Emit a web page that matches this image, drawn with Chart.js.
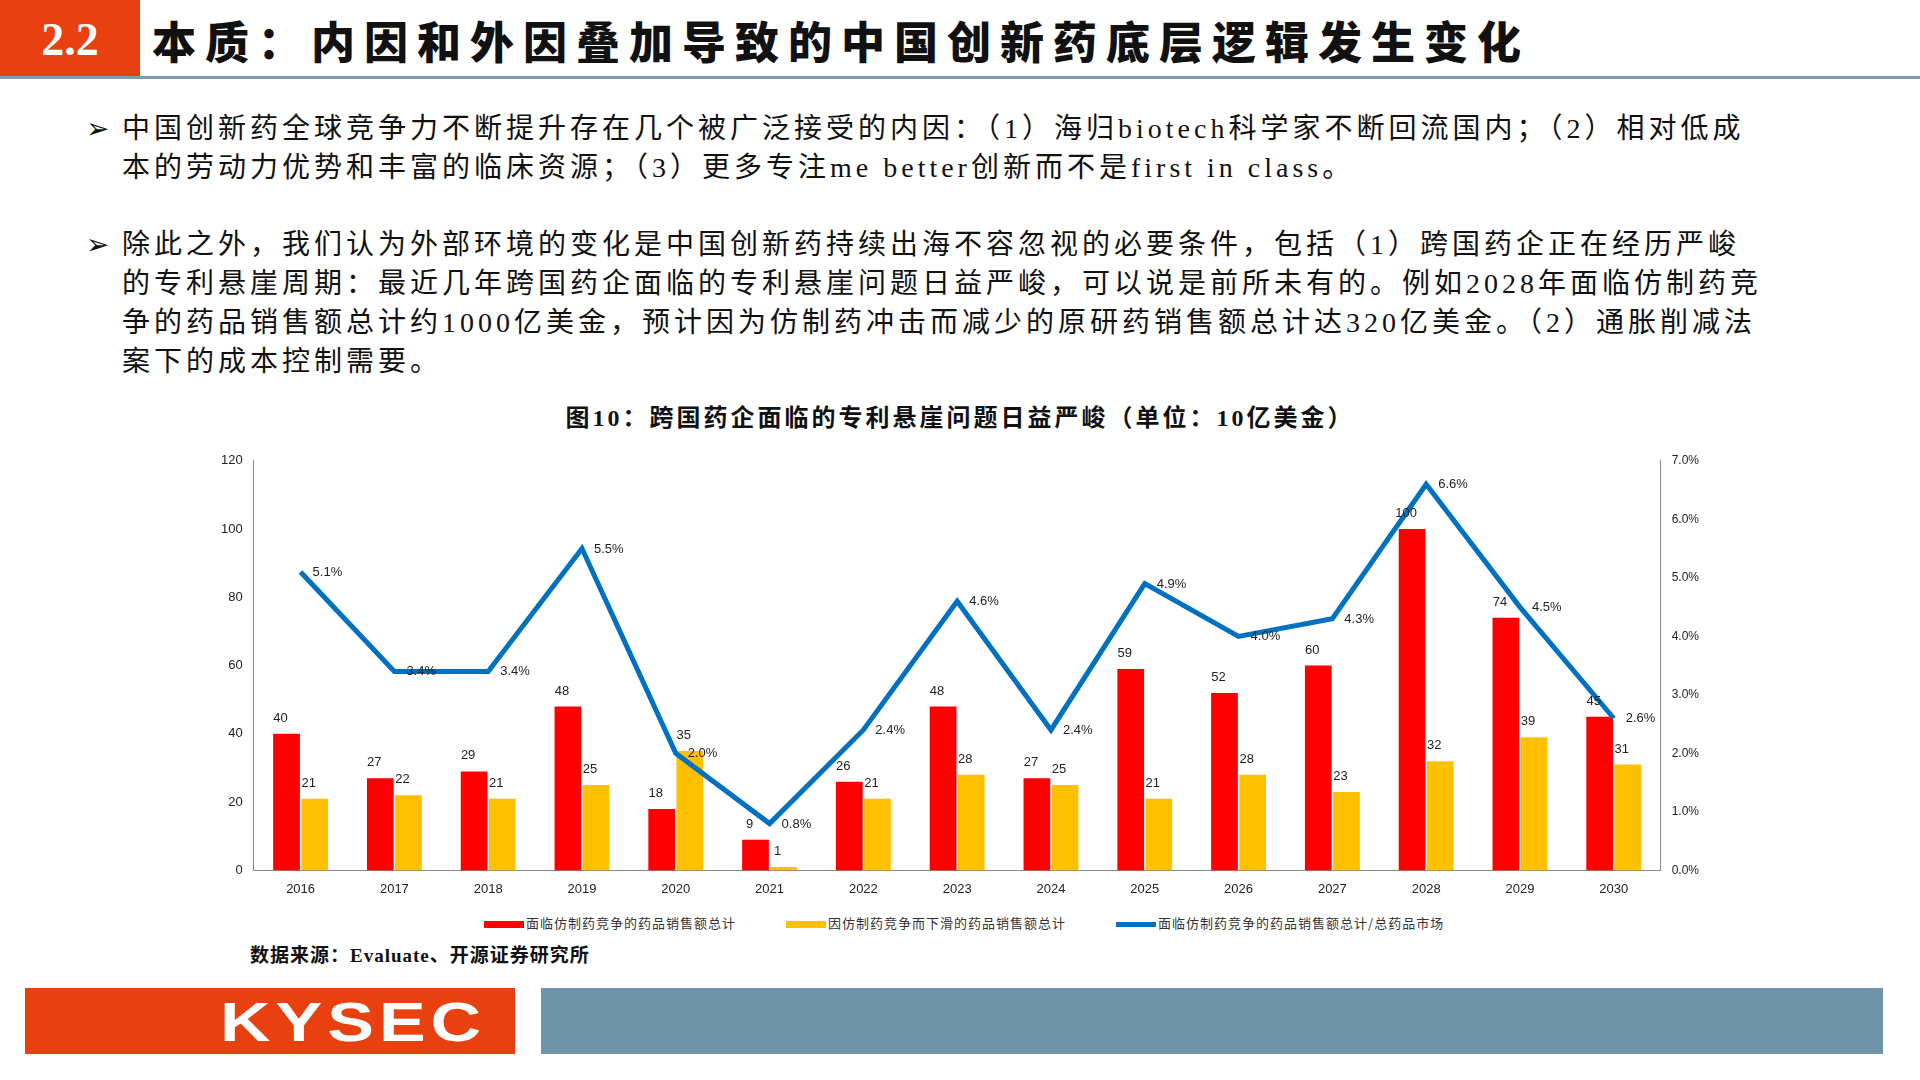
<!DOCTYPE html>
<html><head><meta charset="utf-8">
<script src="https://cdn.jsdelivr.net/npm/chart.js@4"></script>
<style>
body{margin:0;width:1920px;height:1080px;background:#fff;position:relative;overflow:hidden;font-family:"Liberation Serif","Noto Sans CJK SC",serif;}
.abs{position:absolute;}
#hdr{left:0;top:0;width:140px;height:78px;background:#e8410f;color:#fff;font:bold 46px "Liberation Serif";text-align:center;line-height:80px;}
#ttl{left:152px;top:8px;font:900 44px "Noto Sans CJK SC";color:#111;letter-spacing:9px;}
#rule{left:0;top:76px;width:1920px;height:3px;background:#7f9cb0;}
.p{left:86px;width:1680px;font:28px "Liberation Serif","Noto Sans CJK SC";color:#111;line-height:39px;letter-spacing:4px;}
.p span{position:absolute;left:0;}
.p div{margin-left:36px;width:1640px;}
#ctitle{left:0;width:1920px;top:398px;text-align:center;font:bold 24px "Liberation Serif","Noto Sans CJK SC";color:#111;letter-spacing:3px;}
#legend{left:484px;top:913px;font:13px "Noto Sans CJK SC";color:#333;display:flex;gap:50px;letter-spacing:1px;}
#legend i{display:inline-block;width:40px;height:7px;vertical-align:middle;margin-right:2px;}
#src{left:250px;top:940px;font:bold 19px "Liberation Serif","Noto Sans CJK SC";color:#111;letter-spacing:1px;}
#fl{left:25px;top:988px;width:490px;height:66px;background:#e8410f;}
#fl span{position:absolute;left:195px;top:0;color:#fff;font:900 56px "Liberation Sans";line-height:68px;letter-spacing:4px;transform:scaleX(1.25);transform-origin:left;}
#fr{left:541px;top:988px;width:1342px;height:66px;background:#6f93a8;}
</style></head><body>
<div id="hdr" class="abs">2.2</div>
<div id="ttl" class="abs">本质：内因和外因叠加导致的中国创新药底层逻辑发生变化</div>
<div id="rule" class="abs"></div>
<div class="abs p" style="top:109px"><span>➢</span><div>中国创新药全球竞争力不断提升存在几个被广泛接受的内因：（1）海归biotech科学家不断回流国内；（2）相对低成本的劳动力优势和丰富的临床资源；（3）更多专注me better创新而不是first in class。</div></div>
<div class="abs p" style="top:225px"><span>➢</span><div>除此之外，我们认为外部环境的变化是中国创新药持续出海不容忽视的必要条件，包括（1）跨国药企正在经历严峻的专利悬崖周期：最近几年跨国药企面临的专利悬崖问题日益严峻，可以说是前所未有的。例如2028年面临仿制药竞争的药品销售额总计约1000亿美金，预计因为仿制药冲击而减少的原研药销售额总计达320亿美金。（2）通胀削减法案下的成本控制需要。</div></div>
<div id="ctitle" class="abs">图10：跨国药企面临的专利悬崖问题日益严峻（单位：10亿美金）</div>
<div class="abs" style="left:218px;top:450px;width:1494px;height:450px"><canvas id="c"></canvas></div>
<div id="legend" class="abs">
<span><i style="background:#ff0000"></i>面临仿制药竞争的药品销售额总计</span>
<span><i style="background:#ffc000"></i>因仿制药竞争而下滑的药品销售额总计</span>
<span><i style="background:#0070c0;height:5px"></i>面临仿制药竞争的药品销售额总计/总药品市场</span>
</div>
<div id="src" class="abs">数据来源：Evaluate、开源证券研究所</div>
<div id="fl" class="abs"><span>KYSEC</span></div>
<div id="fr" class="abs"></div>
<script>
const years = ['2016','2017','2018','2019','2020','2021','2022','2023','2024','2025','2026','2027','2028','2029','2030'];
const facing = [40,27,29,48,18,9,26,48,27,59,52,60,100,74,45];
const declined = [21,22,21,25,35,1,21,28,25,21,28,23,32,39,31];
const share = [5.1,3.4,3.4,5.5,2.0,0.8,2.4,4.6,2.4,4.9,4.0,4.3,6.6,4.5,2.6];

const labelPlugin = {
  id: 'labels',
  afterDatasetsDraw(chart) {
    const ctx = chart.ctx;
    ctx.save();
    ctx.font = '13px "Liberation Sans"';
    ctx.fillStyle = '#222';
    chart.data.datasets.forEach((ds, i) => {
      chart.getDatasetMeta(i).data.forEach((el, j) => {
        if (i === 2) {
          ctx.textAlign = 'left';
          ctx.fillText(share[j].toFixed(1) + '%', el.x + 12, el.y + 4);
        } else {
          ctx.textAlign = 'center';
          ctx.fillText(ds.data[j], el.x - 6, el.y - 12);
        }
      });
    });
    ctx.restore();
  }
};

new Chart(document.getElementById('c'), {
  data: {
    labels: years,
    datasets: [
      {type: 'bar', data: facing, backgroundColor: '#ff0000', yAxisID: 'y', order: 2},
      {type: 'bar', data: declined, backgroundColor: '#ffc000', yAxisID: 'y', order: 2},
      {type: 'line', data: share, borderColor: '#0070c0', borderWidth: 5, pointRadius: 0, tension: 0, yAxisID: 'y1', order: 1}
    ]
  },
  options: {
    responsive: true, maintainAspectRatio: false, animation: false,
    layout: {padding: {top: 10, right: 10}},
    plugins: {legend: {display: false}, tooltip: {enabled: false}},
    datasets: {bar: {categoryPercentage: 0.6, barPercentage: 0.95}},
    scales: {
      x: {grid: {display: false}, border: {color: '#888'}, ticks: {color: '#222', font: {size: 13, family: 'Liberation Sans'}}},
      y: {min: 0, max: 120, ticks: {stepSize: 20, color: '#222', font: {size: 13, family: 'Liberation Sans'}},
          grid: {display: false}, border: {color: '#888'}},
      y1: {position: 'right', min: 0, max: 7, ticks: {stepSize: 1, color: '#222', font: {size: 12, family: 'Liberation Sans'}, callback: v => v.toFixed(1) + '%'},
           grid: {display: false}, border: {color: '#888'}}
    }
  },
  plugins: [labelPlugin]
});
</script>
</body></html>
